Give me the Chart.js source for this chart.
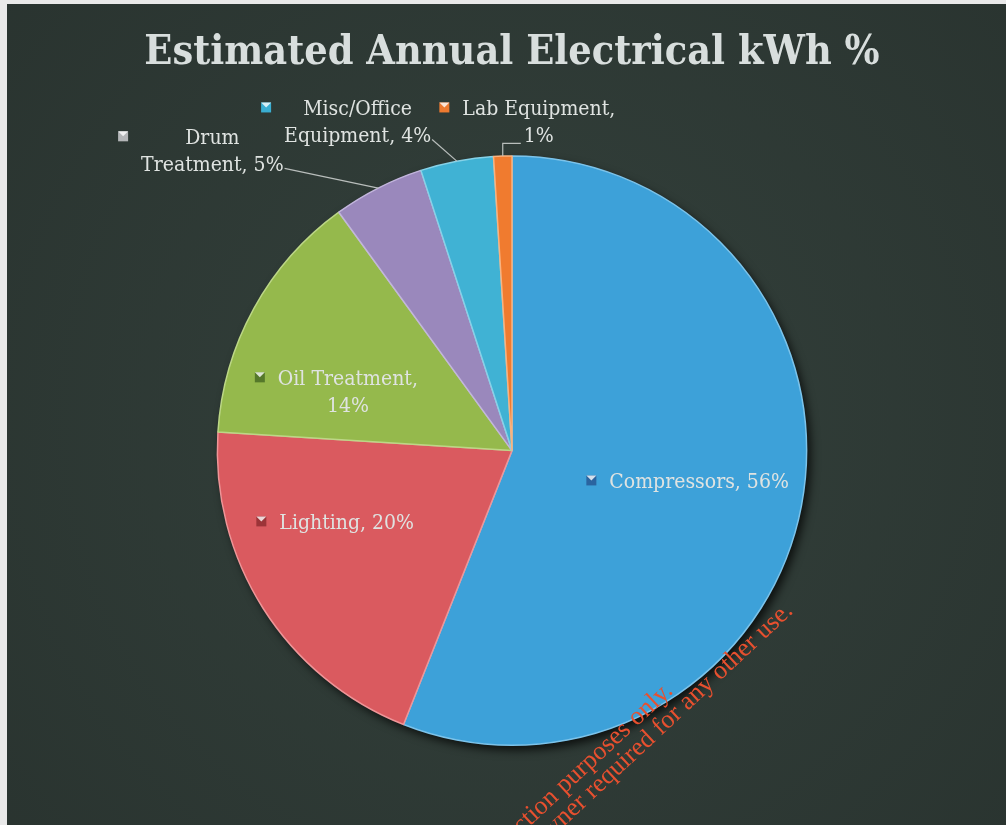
<!DOCTYPE html>
<html>
<head>
<meta charset="utf-8">
<script src="https://cdn.jsdelivr.net/npm/chart.js@4/dist/chart.umd.min.js"></script>
<style>
  html, body { margin: 0; padding: 0; background: #ececec; }
  #wrap { width: 1006px; height: 825px; }
</style>
</head>
<body>
<div id="wrap"><canvas id="myChart" width="1006" height="825"></canvas></div>
<script>
const categories = ["Compressors", "Lighting", "Oil Treatment", "Drum Treatment", "Misc/Office Equipment", "Lab Equipment"];
const percentages = [56, 20, 14, 5, 4, 1];
const sliceColors = ["#3da1d9", "#da5a5f", "#95b94c", "#9a88bc", "#40b2d4", "#f07b2f"];
const edgeColors = ["#7cc3ea", "#ee9598", "#bcd786", "#c2b5dc", "#86d2e8", "#f9b27f"];
const keyColors = ["#2a64a0", "#9c3438", "#55782a", "#b4b6b8", "#3aaed2", "#ee7a30"];

const labelFont = '21px "DejaVu Serif Condensed", "DejaVu Serif", serif';
const labelColor = "#dfe3e1";

// where each label block sits, in units of the pie radius from the centre
const placement = [
  {ux: 0.635, uy: 0.108, brk: 0},
  {ux: -0.561, uy: 0.247, brk: 0},
  {ux: -0.557, uy: -0.196, brk: 2},
  {ux: -1.017, uy: -1.014, brk: 1, leader: "side"},
  {ux: -0.524, uy: -1.112, brk: 1, leader: "side"},
  {ux: 0.091, uy: -1.112, brk: 2, leader: "elbow"}
];

const backdrop = {
  id: "backdrop",
  beforeDraw(chart) {
    const ctx = chart.ctx;
    ctx.save();
    ctx.fillStyle = "#e9e9e9";
    ctx.fillRect(0, 0, chart.width, chart.height);
    const g = ctx.createRadialGradient(520, 420, 50, 520, 420, 700);
    g.addColorStop(0, "#33403b");
    g.addColorStop(1, "#29332f");
    ctx.fillStyle = g;
    ctx.fillRect(7, 4, chart.width - 7, chart.height - 4);
    ctx.restore();
  },
  beforeDatasetsDraw(chart) {
    const arc = chart.getDatasetMeta(0).data[0];
    if (!arc) return;
    const ctx = chart.ctx;
    ctx.save();
    ctx.shadowColor = "rgba(0,0,0,0.75)";
    ctx.shadowBlur = 10;
    ctx.shadowOffsetX = 4;
    ctx.shadowOffsetY = 5;
    ctx.fillStyle = "#1c2422";
    ctx.beginPath();
    ctx.arc(arc.x, arc.y, arc.outerRadius, 0, Math.PI * 2);
    ctx.fill();
    ctx.restore();
  }
};

function drawKey(ctx, x, y, color) {
  ctx.fillStyle = color;
  ctx.fillRect(x - 5, y - 5, 10, 10);
  ctx.fillStyle = "rgba(255,255,255,0.8)";
  ctx.beginPath();
  ctx.moveTo(x - 5, y - 5);
  ctx.lineTo(x + 5, y - 5);
  ctx.lineTo(x, y);
  ctx.closePath();
  ctx.fill();
}

const sliceLabels = {
  id: "sliceLabels",
  afterDatasetsDraw(chart) {
    const ctx = chart.ctx;
    const arcs = chart.getDatasetMeta(0).data;
    const lh = 27;
    ctx.save();
    ctx.font = labelFont;
    ctx.textBaseline = "middle";
    ctx.textAlign = "center";
    arcs.forEach(function(arc, i) {
      const p = placement[i];
      const r = arc.outerRadius;
      const words = (categories[i] + ", " + percentages[i] + "%").split(" ");
      const lines = p.brk ? [words.slice(0, p.brk).join(" "), words.slice(p.brk).join(" ")] : [words.join(" ")];
      const cx = arc.x + p.ux * r;
      const cy = arc.y + p.uy * r;
      const widths = lines.map(function(l) { return ctx.measureText(l).width; });
      const maxW = Math.max.apply(null, widths);
      const y0 = cy - (lines.length - 1) * lh / 2;
      ctx.fillStyle = labelColor;
      lines.forEach(function(l, k) { ctx.fillText(l, cx, y0 + k * lh); });
      drawKey(ctx, cx - maxW / 2 - 18, y0 - 2, keyColors[i]);

      const mid = (arc.startAngle + arc.endAngle) / 2;
      const px = arc.x + Math.cos(mid) * r;
      const py = arc.y + Math.sin(mid) * r;
      const lastY = y0 + (lines.length - 1) * lh;
      const lastW = widths[widths.length - 1];
      ctx.strokeStyle = "#b9bebc";
      ctx.lineWidth = 1.2;
      if (p.leader === "side") {
        ctx.beginPath();
        ctx.moveTo(cx + lastW / 2 + 1, lastY + 3);
        ctx.lineTo(px, py);
        ctx.stroke();
      } else if (p.leader === "elbow") {
        const ly = lastY + 7;
        ctx.beginPath();
        ctx.moveTo(cx - lastW / 2 - 3, ly);
        ctx.lineTo(px, ly);
        ctx.lineTo(px, py);
        ctx.stroke();
      }
    });
    ctx.restore();
  },
  afterDraw(chart) {
    const ctx = chart.ctx;
    const a = -43 * Math.PI / 180;
    const wm = [
      {text: "For inspection purposes only.", x: 674, y: 692},
      {text: "Consent of copyright owner required for any other use.", x: 794, y: 612}
    ];
    wm.forEach(function(w) {
      ctx.save();
      ctx.font = '26px "Liberation Serif", "Times New Roman", serif';
      ctx.fillStyle = "#e8502f";
      ctx.textAlign = "right";
      ctx.translate(w.x, w.y);
      ctx.rotate(a);
      ctx.fillText(w.text, 0, 0);
      ctx.restore();
    });
  }
};

new Chart("myChart", {
  type: "pie",
  data: {
    labels: categories,
    datasets: [{
      data: percentages,
      backgroundColor: sliceColors,
      borderColor: edgeColors,
      borderWidth: 1.5
    }]
  },
  options: {
    responsive: false,
    animation: false,
    layout: {padding: {left: 18, right: 0, top: 10, bottom: 79}},
    plugins: {
      legend: {display: false},
      tooltip: {enabled: false},
      title: {
        display: true,
        text: "Estimated Annual Electrical kWh %",
        color: "#d8dedd",
        font: {family: '"DejaVu Serif Condensed", "DejaVu Serif", serif', size: 41, weight: "bold", lineHeight: 1.2},
        padding: {top: 19, bottom: 77}
      }
    }
  },
  plugins: [backdrop, sliceLabels]
});
</script>
</body>
</html>
